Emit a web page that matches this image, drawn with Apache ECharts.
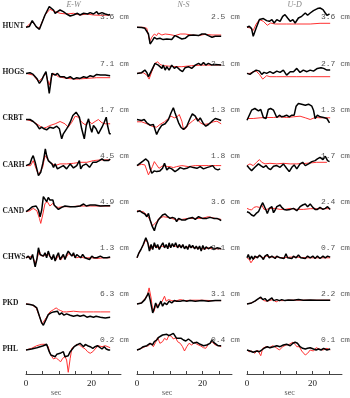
<!DOCTYPE html>
<html><head><meta charset="utf-8">
<script src="https://cdn.jsdelivr.net/npm/echarts@6/dist/echarts.min.js"></script>
<style>html,body{margin:0;padding:0;background:#fff}#c{width:350px;height:398px}</style>
</head><body><div id="c"></div>
<script>
// ---------- DATA (time in sec, displacement in normalized trace units, up positive) ----------
const stations = ['HUNT','HOGS','CRBT','CARH','CAND','CHWS','PKD','PHL'];
const components = ['E-W','N-S','U-D'];
const ampEW = ['3.6','7.1','1.7','4.5','4.9','1.3','6.3','0.2'];
const ampNS = ['2.5','3.1','1.3','1.8','3.6','2.1','3.1','0.4'];
const ampUD = ['3.6','2.7','1.3','1.7','2.4','0.7','2.2','0.1'];
const timeTicks = [0,5,10,15,20,25];
const timeLabels = [0,20];
const timeUnit = 'sec';

// HUNT
const HUNT_EW_obs = [[0,0],[1.0,0.7],[1.9,6.7],[3.1,0.7],[4.1,-2],[5.8,12.3],[7.1,20.7],[8.4,17.3],[8.9,14],[9.6,15.7],[10.4,17.3],[11.4,15.7],[12.4,13.3],[13.5,11.3],[14.5,12.3],[15.7,14],[16.5,12.3],[17.6,14],[18.8,13.3],[19.6,14.7],[20.6,13.3],[21.6,15.7],[22.1,13.3],[23.2,14.7],[24.2,13.3],[25.2,12.3],[25.7,12.7]];
const HUNT_EW_syn = [[0,0],[1.9,5.7],[3.3,0],[4.1,-1],[5.8,12.3],[7.3,18],[8.9,15.7],[10.4,14],[12.4,13.3],[14.5,14],[16.5,12.3],[18.6,13.3],[20.6,12.3],[22.7,12],[25.7,12.3]];
const HUNT_NS_obs = [[0,0],[1.4,-0.3],[2.4,-1],[3.0,1],[3.5,-6.7],[4.0,-16.7],[4.7,-13.3],[5.3,-10],[6.0,-11.7],[7.0,-11],[8.0,-12.3],[9.1,-11.7],[10.6,-12.3],[11.6,-8.3],[12.7,-10],[13.7,-11.7],[14.7,-11],[15.7,-8.3],[17.2,-7.7],[18.8,-8.3],[19.8,-6.7],[20.8,-6.7],[21.8,-8.3],[22.9,-10],[23.9,-9],[25.7,-9]];
const HUNT_NS_syn = [[0,0],[1.9,0],[3.0,-1],[3.5,-8.3],[3.9,-14.3],[4.5,-10],[5.3,-6.7],[6.0,-8.3],[6.5,-5.7],[7.6,-7.7],[8.6,-6.7],[10.1,-7.3],[11.6,-8.3],[13.2,-6.7],[14.7,-6.7],[16.7,-7.7],[18.8,-8.3],[20.8,-7],[22.9,-7.7],[25.7,-7.7]];
const HUNT_UD_obs = [[0,0],[0.7,1],[1.4,-1.3],[1.9,-9],[2.8,-0.7],[3.8,7.7],[5.0,8.7],[6.0,6.7],[6.8,6],[7.6,7.7],[8.3,4.3],[9.1,7.7],[10.1,6],[10.9,11],[11.6,12.7],[12.4,9.3],[13.2,6],[14.0,7.7],[14.7,4.3],[15.7,9.3],[16.7,11],[17.8,14.3],[18.5,12],[19.3,14.3],[20.3,16.7],[21.5,18.7],[22.3,19.3],[23.2,17.7],[23.9,14.3],[24.4,12],[25.2,13.3]];
const HUNT_UD_syn = [[0,0],[1.1,-0.7],[1.9,-3.3],[2.8,3.3],[3.8,7.7],[5.0,6],[6.2,2],[7.2,4.3],[8.6,3.3],[10.1,3.3],[12.1,3.3],[15.2,3.3],[19.3,3.3],[22.3,4],[25.4,4]];
// HOGS
const HOGS_EW_obs = [[0,0],[1.2,0.7],[2.2,-1],[3.3,-5],[4.1,-10],[4.8,-6.7],[5.5,-1.7],[6.1,1.7],[6.6,-8.3],[7.1,-20],[7.6,-8.3],[7.9,0],[8.4,1.7],[8.9,-1.7],[9.6,0],[10.4,-3.3],[10.9,-1.7],[11.6,-3.3],[12.4,-5],[13.5,-3.3],[14.5,-5.7],[15.5,-4.3],[16.5,-5],[17.6,-3.3],[18.6,-4.3],[19.6,-2.3],[20.6,-3.3],[21.6,-1],[22.7,-1.7],[24.2,-1.7],[25.7,-2.3]];
const HOGS_EW_syn = [[0,0],[2.2,-1.7],[3.8,-8.3],[4.8,-5],[6.1,0],[6.6,-6.7],[7.1,-11.7],[7.7,-4.3],[8.4,0],[9.9,-3.3],[12.4,-5],[15.5,-5.7],[18.6,-5],[21.6,-4.3],[25.7,-4.3]];
const HOGS_NS_obs = [[0,0],[1.4,0.7],[2.4,3.3],[3.0,1],[3.5,-3.3],[4.5,3.3],[5.5,10],[6.0,11.7],[6.5,8.3],[7.0,10],[7.6,5],[8.0,8.3],[8.6,3.3],[9.1,6.7],[9.8,3.3],[10.6,8.3],[11.4,5],[12.1,6.7],[13.2,3.3],[13.9,1.7],[14.7,5.7],[15.7,6.7],[16.7,5],[17.8,8.3],[18.8,10],[19.6,8.3],[20.3,11],[21.0,8.3],[21.8,10],[22.9,8.3],[23.9,9],[25.7,8.3]];
const HOGS_NS_syn = [[0,0],[1.9,0.7],[3.0,-1.7],[3.7,-5.7],[4.5,1.7],[5.5,10],[6.3,11.7],[7.0,9],[8.0,7.7],[9.6,7.3],[11.6,6.7],[13.7,6.7],[16.7,7.7],[19.8,8.3],[22.9,8.3],[25.7,8.3]];
const HOGS_UD_obs = [[0,0],[0.9,-1],[1.7,1],[2.8,3.3],[3.8,2.3],[4.5,-1],[5.2,1],[6.0,0],[7.0,1.7],[8.0,0],[9.1,2.3],[10.1,1],[11.1,3.3],[12.1,-1.7],[13.2,1.7],[14.2,1.7],[15.2,5],[16.2,1],[17.2,3.3],[18.3,1.7],[19.3,3.3],[20.3,2.3],[21.5,5],[22.6,5.7],[23.4,5],[24.4,3.3],[25.4,3.3]];
const HOGS_UD_syn = [[0,0],[0.9,0],[1.9,1.7],[2.8,2.3],[3.8,-1],[4.8,-5.7],[6.0,-2.3],[7.0,-3.3],[9.1,-3.3],[12.1,-3.3],[15.2,-3.3],[19.3,-3.3],[25.4,-3.3]];
// CRBT
const CRBT_EW_obs = [[0,0],[1.2,0],[2.2,-2],[3.3,-5.3],[4.1,-9.3],[4.8,-7.7],[5.5,-9.3],[6.3,-10.3],[7.3,-7.7],[8.4,-8.7],[9.4,-6.7],[10.2,-9.3],[10.9,-19.3],[11.4,-14.3],[11.9,-12.7],[12.4,-9.3],[12.9,-6.7],[13.5,-2.7],[14.3,4],[15.3,7.3],[16.3,2.3],[17.0,-9.3],[17.8,-19.3],[18.4,-6],[19.1,0.7],[19.6,-7.7],[20.1,-12.7],[20.6,-6],[21.4,-9.3],[22.1,-14.3],[23.2,-7.7],[23.9,-2.7],[24.5,2.3],[24.9,-6],[25.5,-14.3],[25.9,-14.3]];
const CRBT_EW_syn = [[0,0],[2.2,-2],[4.3,-6.7],[5.3,-8.7],[6.3,-7.7],[7.3,-6],[8.9,-4.3],[10.4,-2],[11.9,-4.3],[12.9,-7.7],[14.0,-2.7],[15.0,3.3],[16.0,2.3],[17.0,-2.7],[18.1,-5.3],[19.1,-1],[20.1,-4.3],[21.1,-2],[22.1,0],[23.2,-3.3],[24.2,-4.3],[25.7,-4.3]];
const CRBT_NS_obs = [[0,0],[0.6,1],[1.4,-1],[2.2,0],[3.0,-3.3],[4.0,-5.7],[5.0,-5],[6.0,-15],[6.7,-10],[7.6,-5.7],[8.6,-4.3],[9.6,0],[10.4,6.7],[11.1,11.7],[11.6,6.7],[12.1,5],[12.7,-3.3],[13.4,-7.7],[14.2,-10],[15.2,-6.7],[16.2,1],[16.9,5.7],[17.8,3.3],[18.6,-1.7],[19.3,1.7],[20.3,-4.3],[21.0,-6.7],[21.8,-5],[22.9,-1.7],[23.9,1],[24.9,0],[25.7,-1]];
const CRBT_NS_syn = [[0,-2.3],[1.4,-2.3],[3.0,-4.3],[4.5,-6.7],[6.0,-7.7],[7.0,-5],[8.4,-2.3],[9.6,1],[10.4,3.3],[11.4,1.7],[12.1,2.3],[12.9,5],[13.7,-1.7],[14.2,-10],[14.9,-9],[15.7,-5],[16.9,-1.7],[18.3,1.7],[19.3,-3.3],[20.3,-5],[21.8,-4.3],[23.4,-2.3],[24.4,-1.7],[25.7,-4.3]];
const CRBT_UD_obs = [[0,-0.7],[0.7,4.3],[1.4,9.3],[2.4,11],[3.5,8.7],[4.2,10],[5.0,2],[5.8,1],[6.5,10],[7.2,11],[8.1,9.3],[8.6,10],[9.1,2],[9.9,4.3],[10.6,2.7],[11.3,3.3],[12.1,4.3],[12.9,2.7],[13.7,4.3],[14.4,4.3],[15.0,13.3],[15.7,16],[16.7,15.3],[17.8,14.3],[18.8,15.3],[19.8,13.3],[20.3,9.3],[20.8,1],[21.5,4.3],[22.3,2.7],[23.4,2],[24.4,1],[25.2,-3.3]];
const CRBT_UD_syn = [[0,1],[1.9,1],[4.0,1.7],[6.0,2],[8.1,2],[10.1,2.7],[12.1,2],[14.2,2.7],[16.2,3.3],[17.8,1.7],[19.3,0],[20.8,2],[22.4,1.7],[25.4,1.7]];
// CARH
const CARH_EW_obs = [[0,0],[1.2,1.7],[1.7,6.7],[2.2,10],[2.8,3.3],[3.3,-3.3],[3.8,-10],[4.5,-6.7],[5.1,1.7],[5.5,8.3],[5.9,16.7],[6.3,10],[6.8,5],[7.3,6.7],[7.9,1.7],[8.4,-1.7],[8.9,1.7],[9.6,-3.3],[10.4,-1.7],[11.4,0],[12.4,-3.3],[13.5,1.7],[14.5,-2.3],[15.5,0],[16.3,5],[16.7,-3.3],[17.3,0],[18.4,1.7],[19.4,-1.7],[20.4,3.3],[21.4,3.3],[22.4,5],[23.2,6.7],[23.9,5],[24.5,3.3],[25.2,5],[25.7,6.7]];
const CARH_EW_syn = [[0,0],[1.4,0],[2.2,5],[3.1,-3.3],[3.8,-9],[4.3,-8.3],[5.1,-1.7],[5.8,10],[6.3,9],[7.3,3.3],[8.9,0],[10.4,1.7],[12.4,1.7],[14.5,2.3],[16.5,3.3],[18.6,3.3],[20.6,5],[22.7,5.7],[25.7,5.7]];
const CARH_NS_obs = [[0,0],[0.9,2.3],[1.9,4.7],[2.7,6.7],[3.5,4],[4.0,-2.7],[4.5,-7.7],[5.3,-5.3],[6.0,-6],[7.0,-5.3],[7.8,-2.7],[8.4,2.3],[9.1,-4.3],[9.8,-2],[10.6,-3.3],[11.6,-6],[12.4,-4.3],[13.2,-2],[14.2,-3.3],[15.2,-2.7],[16.2,-1],[17.2,-2],[18.3,-2.7],[19.3,-1],[20.3,-3.3],[21.3,-2],[22.3,-1],[23.1,0],[23.9,-3.3],[24.7,-4.3],[25.4,-3.3]];
const CARH_NS_syn = [[0,0],[1.4,1.3],[2.4,0.7],[3.0,-1],[3.5,-9.3],[4.1,-7.7],[4.7,-1],[5.3,4],[6.0,0.7],[6.7,-2.7],[7.3,-4.3],[8.0,0],[8.6,1.3],[9.4,-1],[10.1,-1],[11.1,-2],[12.1,-1],[13.7,0],[15.7,-1],[17.8,0],[19.8,0],[21.8,0],[23.9,0],[25.7,0]];
const CARH_UD_obs = [[0,0],[0.7,-2.7],[1.4,-5],[2.4,-1.7],[3.5,1.7],[4.2,0],[5.0,-1.7],[5.8,0],[6.5,-2.7],[7.2,-4],[8.1,-0.7],[9.1,0],[10.1,-1.7],[11.1,1.7],[12.1,-2.7],[12.9,-6],[13.7,-1.7],[14.4,0.7],[15.2,-3.3],[16.2,1.7],[17.0,3.3],[17.8,0],[18.8,1.7],[19.8,4],[20.8,5],[21.5,6.7],[22.3,8.3],[23.2,6],[23.9,9.3],[24.6,5],[25.2,4]];
const CARH_UD_syn = [[0,0],[0.9,1.7],[1.9,0],[2.9,3.3],[3.8,6],[4.5,3.3],[5.5,1.7],[7.0,2.3],[9.1,1.7],[11.1,2.3],[13.2,1.7],[15.2,1.7],[18.3,2.3],[21.3,3.3],[24.4,3.3]];
// CAND
const CAND_EW_obs = [[0,0],[1.0,2.3],[2.0,5],[3.1,5.7],[3.8,1.7],[4.3,-5],[4.8,1.7],[5.3,15],[5.8,13.3],[6.3,10],[6.8,14.3],[7.3,11.7],[7.9,10],[8.2,11.7],[8.6,6.7],[9.2,5],[9.9,2.3],[10.9,4.3],[11.9,5.7],[13.5,5],[15.0,5],[16.5,5.7],[17.6,7.7],[18.4,5.7],[19.6,6.7],[21.1,6.7],[22.7,5.7],[24.2,6],[25.7,6]];
const CAND_EW_syn = [[0,0],[1.2,1],[2.2,3.3],[3.3,1],[4.1,-6.7],[4.5,-11.7],[5.1,-3.3],[5.8,8.3],[6.5,10],[7.3,5.7],[8.2,8.3],[8.9,5],[9.9,4.3],[11.4,5],[13.5,5],[16.5,5.7],[19.6,5.7],[22.7,5.7],[25.7,5.7]];
const CAND_NS_obs = [[0,0],[0.9,1],[1.6,-1],[2.4,-2.3],[3.0,-5],[3.5,-1.7],[4.0,-8.3],[4.7,-15],[5.3,-19],[5.8,-13.3],[6.5,-8.3],[7.0,-6.7],[7.8,-3.3],[8.6,-2.3],[9.4,-5],[10.1,-6.7],[10.8,-5.7],[11.6,-6.7],[12.1,-10],[12.7,-6.7],[13.2,-8.3],[13.7,-8.3],[14.7,-8.3],[15.7,-6.7],[16.9,-5.7],[17.8,-7.7],[18.8,-5],[20.0,-6.7],[21.3,-6.7],[22.3,-5.7],[23.4,-6.7],[24.4,-6.7],[25.1,-7.7],[25.7,-9]];
const CAND_NS_syn = [[0,1],[0.9,0],[1.9,0],[3.0,-3.3],[4.0,-8.3],[4.7,-14.3],[5.3,-15],[6.0,-10],[6.7,-6.7],[8.0,-5],[9.4,-5.7],[10.6,-6.7],[12.1,-8.3],[13.7,-7.7],[15.7,-6.7],[17.8,-6.7],[19.8,-6.7],[21.8,-5],[23.9,-6.7],[25.7,-7.7]];
const CAND_UD_obs = [[0,0],[0.7,-1],[1.4,-3.3],[2.1,-4.3],[2.8,-1.7],[3.5,0],[4.2,5],[4.8,9],[5.3,7.7],[5.8,1.7],[6.2,-1.7],[6.8,3.3],[7.6,5],[8.1,-1],[8.6,1.7],[9.1,5],[9.6,3.3],[10.1,6.7],[10.6,4.3],[11.3,2.3],[12.1,1.7],[13.2,2.3],[14.2,3.3],[15.2,1],[16.2,5],[17.0,6.7],[17.8,7.7],[18.5,5],[19.3,7.7],[20.1,4.3],[20.8,2.3],[21.5,2.3],[22.3,4.3],[23.2,2.3],[23.9,3.3],[24.6,5],[25.4,2.3]];
const CAND_UD_syn = [[0,3.3],[0.7,2.3],[1.4,1.7],[2.1,4.3],[2.9,5],[3.8,4.3],[4.5,6.7],[5.2,2.3],[6.0,2.3],[7.0,3.3],[8.6,3.3],[10.1,2.3],[11.6,2.3],[13.2,3.3],[15.2,2.3],[17.2,2.3],[19.3,3],[21.3,3],[23.4,3],[25.4,3]];
// CHWS
const CHWS_EW_obs = [[0,0],[0.7,1.7],[1.4,-1.7],[2.0,3.3],[2.8,-9],[3.3,-1.7],[3.8,10],[4.3,3.3],[4.8,5],[5.3,1.7],[5.8,5],[6.3,0],[6.8,6.7],[7.3,1.7],[7.9,-1.7],[8.4,3.3],[8.9,-3.3],[9.4,1.7],[9.9,5],[10.4,-1.7],[10.9,-3.3],[11.4,3.3],[11.9,-1.7],[12.4,3.3],[12.9,6.7],[13.5,5],[14.0,1.7],[14.5,5],[15.0,0],[15.5,3.3],[16.0,1.7],[16.7,0],[17.3,3.3],[18.0,0],[18.6,1.7],[19.4,-1.7],[20.1,1.7],[20.8,0],[21.6,0],[22.7,1.7],[23.7,0],[24.7,0],[25.7,0.7]];
const CHWS_EW_syn = [[0,0],[1.0,0.7],[2.0,1.7],[2.8,-5.7],[3.5,0],[4.0,7.7],[4.5,2.3],[5.3,1.7],[6.0,3.3],[6.8,3.3],[7.6,0],[8.4,1.7],[9.1,-2.3],[9.9,2.3],[10.6,-2.3],[11.4,1.7],[12.2,0],[13.0,4.3],[13.9,2.3],[14.7,2.3],[15.5,0],[16.5,1],[17.6,0],[18.8,0],[20.1,0],[21.6,-0.7],[23.7,0],[25.7,0]];
const CHWS_NS_obs = [[0,0],[0.6,5],[1.2,8.3],[1.9,13.3],[2.7,20],[3.3,15],[3.8,6.7],[4.3,13.3],[4.8,8.3],[5.3,15],[5.8,10],[6.3,13.3],[6.8,8.3],[7.3,11.7],[7.9,15],[8.4,10],[8.9,13.3],[9.4,9],[9.8,15],[10.3,10],[10.8,14.3],[11.3,11],[11.8,15],[12.4,10],[12.9,13.3],[13.5,10],[14.0,13.3],[14.5,9],[15.0,11.7],[15.5,8.3],[16.0,13.3],[16.5,10],[17.0,12.3],[17.6,9],[18.1,11.7],[18.6,8.3],[19.1,11.7],[19.6,6.7],[20.1,12.3],[20.6,8.3],[21.1,11],[21.8,9],[22.7,11],[23.4,8.3],[24.4,10],[25.7,9]];
const CHWS_NS_syn = [[0,0],[0.9,6.7],[1.9,12.3],[2.7,18.3],[3.5,13.3],[4.1,8.3],[4.7,11],[5.5,11.7],[6.5,10],[7.6,11.7],[8.6,11],[9.6,11],[10.6,12.3],[11.6,11.7],[12.7,11],[13.7,11.7],[14.7,10],[15.7,11],[16.7,11],[17.8,10],[18.8,10],[19.8,9],[20.8,9],[21.8,10],[22.9,9],[23.9,9],[25.7,9]];
const CHWS_UD_obs = [[0,0],[0.4,3.3],[0.9,-1.7],[1.4,1.7],[1.9,-1.7],[2.4,1.7],[3.2,0],[3.8,2.7],[4.5,0.7],[5.0,-1.7],[5.5,1.7],[6.2,3.3],[6.8,0],[7.6,1.7],[8.1,2.7],[8.6,-0.7],[9.1,1.7],[9.6,3.3],[10.1,0],[10.6,1.7],[11.3,-0.7],[11.9,4],[12.4,0],[12.9,1.7],[13.7,-0.7],[14.2,1.7],[15.0,0],[15.7,2.7],[16.4,0],[17.0,1.7],[17.8,-0.7],[18.5,1.7],[19.3,0],[20.1,1.7],[20.8,-0.7],[21.5,1.7],[22.3,-0.7],[23.2,1.7],[23.9,0],[24.6,1.7],[25.4,0.7]];
const CHWS_UD_syn = [[0,0],[0.7,-1.7],[1.2,-5],[1.9,-1.7],[2.8,0.7],[3.8,1.7],[4.8,0],[6.0,1.7],[7.6,0.7],[9.1,0.7],[11.1,0],[13.2,0.7],[15.2,0.7],[18.3,0],[21.3,0],[25.4,0]];
// PKD
const PKD_EW_obs = [[0,0],[1.2,-0.7],[2.2,-1.3],[3.3,-4],[4.1,-12.3],[4.8,-19],[5.3,-21.3],[6.1,-15.7],[6.8,-10.7],[7.6,-9],[8.4,-8],[8.9,-10],[9.6,-7.3],[10.2,-10.7],[10.9,-9],[11.6,-11.3],[12.4,-10],[13.5,-11.3],[14.5,-12.3],[15.7,-11.3],[16.5,-12.3],[17.6,-11.3],[18.6,-13.3],[19.6,-12.3],[20.6,-13.3],[21.4,-12.3],[22.7,-13.3],[24.2,-14],[25.7,-13.3]];
const PKD_EW_syn = [[0,0],[1.7,-0.7],[3.1,-4],[4.1,-12.3],[4.9,-20],[5.5,-19],[6.3,-13.3],[7.3,-8],[8.4,-5.7],[9.2,-4],[9.9,-5.7],[10.6,-6.7],[11.4,-8],[12.4,-8],[14.5,-7.3],[16.5,-8],[18.6,-8],[20.6,-8],[22.7,-8],[25.7,-8]];
const PKD_NS_obs = [[0,0],[1.4,1],[2.4,4.3],[3.0,7.7],[3.5,11],[4.0,4.3],[4.5,-4],[4.8,-9],[5.3,-4],[5.7,1],[6.3,-4],[6.8,-0.7],[7.3,2.7],[7.8,-2.3],[8.4,1],[9.1,-0.7],[9.8,2.7],[10.6,1],[11.4,3.3],[12.1,2.7],[13.2,2.7],[14.2,3.3],[15.2,2.7],[16.2,3.3],[17.8,2.7],[19.8,3.3],[21.8,2.7],[23.9,3.3],[25.7,3.3]];
const PKD_NS_syn = [[0,0],[1.4,1],[2.4,5.3],[3.2,9.3],[3.7,16],[4.3,6],[4.7,-4],[5.1,-8],[5.7,-2.3],[6.5,-0.7],[7.6,2],[8.4,7.7],[8.9,2.7],[9.6,4.3],[10.6,3.3],[11.6,2.7],[13.2,4.3],[14.7,3.3],[16.7,3.7],[19.8,3.7],[22.9,3.3],[25.7,3.3]];
const PKD_UD_obs = [[0,0],[1.4,1],[2.4,2.7],[3.5,5.3],[4.2,6.7],[4.8,4.3],[5.5,5.3],[6.2,2.7],[6.8,4.3],[7.6,6],[8.1,3.3],[8.6,2],[9.1,4.3],[9.9,3.3],[10.6,4.3],[11.6,3.3],[12.6,4],[14.2,3.7],[15.7,4.3],[17.2,3.7],[19.3,4],[21.3,3.7],[23.4,3.7],[25.4,3.7]];
const PKD_UD_syn = [[0,0],[1.4,1],[2.8,3.3],[3.8,6],[4.5,5.3],[5.2,3.3],[6.0,2.7],[6.8,3.3],[7.9,4.3],[8.9,2],[9.6,3.3],[11.1,3.3],[13.2,3.7],[15.2,3.7],[19.3,3.7],[25.4,3.7]];
// PHL
const PHL_EW_obs = [[0,0],[1.7,1],[3.3,2.3],[4.3,3.3],[5.3,4.3],[6.3,5.7],[6.8,5],[7.1,-1.7],[7.6,-5],[8.2,-3.3],[8.9,-6.7],[9.4,-4.3],[9.9,-5.7],[10.4,-3.3],[10.9,-5],[11.4,-1.7],[11.9,-6.7],[12.4,-5],[12.9,-5.7],[13.5,-1.7],[14.0,0],[14.7,3.3],[15.5,5],[16.0,3.3],[16.5,6.7],[17.0,5],[17.6,3.3],[18.1,5.7],[18.8,4.3],[19.6,3.3],[20.4,1.7],[21.1,3.3],[21.8,4.3],[22.4,2.3],[23.2,1],[23.9,3.3],[24.5,1],[25.2,0],[25.7,0]];
const PHL_EW_syn = [[0,0],[1.7,1.7],[3.3,4.3],[4.8,5.7],[6.1,5.7],[6.8,3.3],[7.3,-3.3],[7.9,-6.7],[8.4,-9],[9.2,-7.7],[9.9,-10],[10.6,-11.7],[11.2,-8.3],[11.9,-6.7],[12.4,-10],[12.9,-22.3],[13.5,-8.3],[14.0,1.7],[14.7,3.3],[15.5,5.7],[16.3,5],[17.0,3.3],[18.1,1],[18.8,-1.7],[19.6,-3.3],[20.4,-1.7],[21.1,1],[22.1,4.3],[23.2,3.3],[24.2,4.3],[25.7,2.3]];
const PHL_NS_obs = [[0,0],[0.9,1],[1.9,3.3],[3.0,4.3],[4.0,6.7],[4.7,5],[5.3,8.3],[6.0,10],[6.5,12.3],[7.0,11],[7.8,15],[8.4,13.3],[9.1,15.7],[9.8,14.3],[10.4,15.7],[11.1,16.7],[11.6,15],[12.1,11.7],[12.7,13.3],[13.5,11.7],[14.2,10],[14.9,9],[15.7,11],[16.5,9],[17.2,6.7],[18.3,7.7],[19.3,5.7],[20.3,4.3],[21.3,5],[22.3,6.7],[22.9,10],[23.4,7.7],[23.9,5.7],[24.7,4.3],[25.7,4.3]];
const PHL_NS_syn = [[0,0],[1.4,1.7],[2.4,3.3],[3.5,4.3],[4.3,6.7],[5.0,3.3],[5.7,7.7],[6.3,12.3],[7.0,6.7],[7.8,8.3],[8.4,11.7],[9.1,10],[9.8,15],[10.6,13.3],[11.1,11],[11.8,12.3],[12.4,8.3],[13.2,6.7],[13.9,3.3],[14.5,-1],[15.2,3.3],[15.9,6.7],[16.7,5],[17.6,7.7],[18.3,5.7],[19.3,4.3],[20.3,2.3],[21.0,1.7],[21.8,5.7],[22.9,8.3],[23.9,5],[24.9,4.3],[25.7,3.3]];
const PHL_UD_obs = [[0,0],[0.9,-1],[1.9,-2.3],[3.0,-1],[3.8,-1.7],[4.5,0],[5.5,2.3],[6.2,3.3],[7.0,2.3],[8.1,3.3],[9.1,4.3],[10.1,3.3],[11.1,5],[12.1,5.7],[13.2,4.3],[14.0,6.7],[14.7,7.7],[15.4,6.7],[16.2,3.3],[17.0,1.7],[17.8,1],[18.5,1.7],[19.3,2.3],[20.3,1],[21.1,0],[21.8,1],[22.6,0],[23.4,1.7],[24.4,0],[25.4,1]];
const PHL_UD_syn = [[0,0],[0.7,-1.7],[1.4,-1],[2.4,-3.3],[3.2,0],[4.2,-5.7],[4.8,1.7],[5.8,3.3],[6.8,2.3],[7.9,4.3],[8.9,2.3],[9.9,0],[10.9,3.3],[11.9,5],[12.9,5.7],[14.0,7.7],[14.7,5.7],[15.2,3.3],[16.0,3.3],[16.7,-1],[17.8,-5],[18.5,-3.3],[19.3,0],[20.3,-1],[21.1,2.3],[22.1,1],[23.2,0],[24.4,1.7],[25.4,0]];

// ---------- ASSEMBLY ----------
const observed = [
  [HUNT_EW_obs, HUNT_NS_obs, HUNT_UD_obs],
  [HOGS_EW_obs, HOGS_NS_obs, HOGS_UD_obs],
  [CRBT_EW_obs, CRBT_NS_obs, CRBT_UD_obs],
  [CARH_EW_obs, CARH_NS_obs, CARH_UD_obs],
  [CAND_EW_obs, CAND_NS_obs, CAND_UD_obs],
  [CHWS_EW_obs, CHWS_NS_obs, CHWS_UD_obs],
  [PKD_EW_obs, PKD_NS_obs, PKD_UD_obs],
  [PHL_EW_obs, PHL_NS_obs, PHL_UD_obs]
];
const synthetic = [
  [HUNT_EW_syn, HUNT_NS_syn, HUNT_UD_syn],
  [HOGS_EW_syn, HOGS_NS_syn, HOGS_UD_syn],
  [CRBT_EW_syn, CRBT_NS_syn, CRBT_UD_syn],
  [CARH_EW_syn, CARH_NS_syn, CARH_UD_syn],
  [CAND_EW_syn, CAND_NS_syn, CAND_UD_syn],
  [CHWS_EW_syn, CHWS_NS_syn, CHWS_UD_syn],
  [PKD_EW_syn, PKD_NS_syn, PKD_UD_syn],
  [PHL_EW_syn, PHL_NS_syn, PHL_UD_syn]
];
const amps = [ampEW, ampNS, ampUD];

// layout
const colLeft = [26, 137, 247];
const pxPerSec = 3.275;
const tMax = 29;
const gridW = tMax * pxPerSec;
const rowBase0 = 27.3, rowStep = 46.1;
const halfRange = 25;
const axisY = 374;
const secLabelT = [9.5, 9.5, 13.3];

const grids = [], xAxes = [], yAxes = [], series = [], graphics = [];
let gi = 0;
for (let r = 0; r < stations.length; r++) {
  const base = rowBase0 + r * rowStep;
  graphics.push({type:'text', left: 2.5, top: base - 5, style:{text: stations[r], font:'bold 7.5px "Liberation Serif", serif', fill:'#1a1a1a'}});
  for (let c = 0; c < 3; c++) {
    grids.push({left: colLeft[c], top: base - halfRange, width: gridW, height: 2*halfRange});
    xAxes.push({type:'value', gridIndex: gi, min:0, max:tMax, show:false});
    yAxes.push({type:'value', gridIndex: gi, min:-halfRange, max:halfRange, show:false});
    series.push({type:'line', xAxisIndex: gi, yAxisIndex: gi, data: synthetic[r][c], showSymbol:false, symbol:'none',
      lineStyle:{color:'#ff3030', width:1}, z:2, silent:true});
    series.push({type:'line', xAxisIndex: gi, yAxisIndex: gi, data: observed[r][c], showSymbol:false, symbol:'none',
      lineStyle:{color:'#000', width:1.5}, z:3, silent:true});
    graphics.push({type:'text', left: colLeft[c] + 22.6*pxPerSec, top: base - 14, z:10,
      style:{text: amps[c][r] + ' cm', font:'8px "Liberation Mono", monospace', fill:'#555'}});
    gi++;
  }
}
// bottom time axes
for (let c = 0; c < 3; c++) {
  grids.push({left: colLeft[c], top: axisY - 10, width: gridW, height: 10});
  xAxes.push({type:'value', gridIndex: gi, min:0, max:tMax, position:'bottom',
    axisLine:{show:true, lineStyle:{color:'#444', width:1}},
    axisTick:{show:true, inside:true, length:3, customValues: timeTicks, lineStyle:{color:'#444'}},
    axisLabel:{show:true, customValues: timeLabels, margin:5, fontSize:9, fontFamily:'"Liberation Serif", serif', color:'#222'},
    splitLine:{show:false}});
  yAxes.push({type:'value', gridIndex: gi, min:0, max:1, show:false});
  graphics.push({type:'text', left: colLeft[c] + secLabelT[c]*pxPerSec - 6, top: 389, style:{text: timeUnit, font:'8px "Liberation Serif", serif', fill:'#555'}});
  graphics.push({type:'text', left: colLeft[c] + 14.5*pxPerSec - 7, top: 1, style:{text: components[c], font:'italic 8px "Liberation Serif", serif', fill:'#888'}});
  gi++;
}

const chart = echarts.init(document.getElementById('c'), null, {renderer:'canvas'});
chart.setOption({
  animation:false,
  backgroundColor:'#fff',
  grid: grids, xAxis: xAxes, yAxis: yAxes, series: series, graphic: graphics
});
</script></body></html>
